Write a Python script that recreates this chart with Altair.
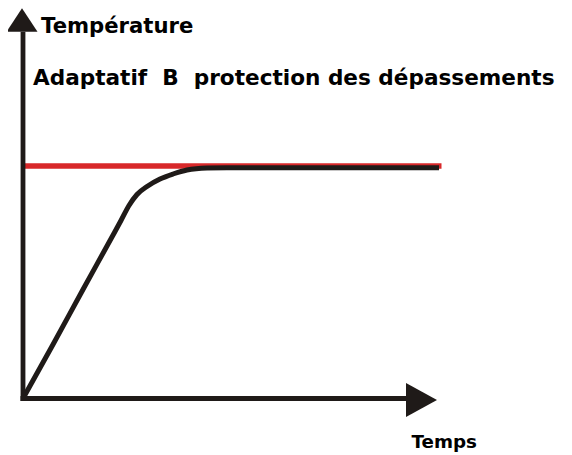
import altair as alt
import pandas as pd

# Black response curve (time, temperature) in arbitrary units
curve_t = [0, 30, 60, 88.7, 98, 106, 114, 124, 137, 150, 164, 184, 204, 416]
curve_T = [0, 54, 109, 161, 178, 193, 204, 212, 219.5, 224.5, 228.5, 230.5, 230.8, 230.8]

# Red set-point line
setpoint_T = 232.5
setpoint_t = [0, 418.5]

# Axis extents (arrow bases) and arrow-head centres
x_axis_end = 383
y_axis_end = 366.8
up_arrow = (-1, 378.5)
right_arrow = (398.5, -1.5)

title_text = "Adaptatif \u00a0B \u00a0protection des dépassements"
ylabel_text = "Température"
xlabel_text = "Temps"

H = 447
X_DOMAIN = [-15, 541]
Y_DOMAIN = [390.5 - H, 390.5]

xs = alt.Scale(domain=X_DOMAIN, nice=False, zero=False)
ys = alt.Scale(domain=Y_DOMAIN, nice=False, zero=False)

dark = "#1f1a18"
red = "#d8282a"

curve_df = pd.DataFrame({"t": curve_t, "T": curve_T, "o": list(range(len(curve_t)))})
red_df = pd.DataFrame({"t": [setpoint_t[0]], "t2": [setpoint_t[1]], "T": [setpoint_T]})
yaxis_df = pd.DataFrame({"t": [0], "T": [-2.5], "T2": [y_axis_end]})
xaxis_df = pd.DataFrame({"t": [-2.5], "t2": [x_axis_end], "T": [0]})
up_df = pd.DataFrame({"t": [up_arrow[0]], "T": [up_arrow[1]]})
right_df = pd.DataFrame({"t": [right_arrow[0]], "T": [right_arrow[1]]})


def bx(f):
    return alt.X(f, type="quantitative", scale=xs, axis=None)


def by(f):
    return alt.Y(f, type="quantitative", scale=ys, axis=None)


redline = alt.Chart(red_df).mark_rule(color=red, strokeWidth=5.5).encode(
    x=bx("t"), x2="t2", y=by("T"))
curve = alt.Chart(curve_df).mark_line(
    color=dark, strokeWidth=5, interpolate="monotone", strokeJoin="round"
).encode(x=bx("t"), y=by("T"), order="o:Q")
yaxis = alt.Chart(yaxis_df).mark_rule(color=dark, strokeWidth=4.8).encode(
    x=bx("t"), y=by("T"), y2="T2")
xaxis = alt.Chart(xaxis_df).mark_rule(color=dark, strokeWidth=4.8).encode(
    x=bx("t"), x2="t2", y=by("T"))
up = alt.Chart(up_df).mark_point(
    shape="M0,-0.755L1,0.755L-1,0.755Z", size=961, filled=True, color=dark, opacity=1
).encode(x=bx("t"), y=by("T"))
right = alt.Chart(right_df).mark_point(
    shape="M1,0L-1,-1.097L-1,1.097Z", size=961, filled=True, color=dark, opacity=1
).encode(x=bx("t"), y=by("T"))

font = "DejaVu Sans"
t1 = alt.Chart(pd.DataFrame({"s": [ylabel_text]})).mark_text(
    font=font, fontWeight="bold", fontSize=21.2, align="left", baseline="alphabetic", color="black"
).encode(x=alt.value(33), y=alt.value(25.3), text="s:N")
t2 = alt.Chart(pd.DataFrame({"s": [title_text]})).mark_text(
    font=font, fontWeight="bold", fontSize=21.6, align="left", baseline="alphabetic", color="black"
).encode(x=alt.value(25), y=alt.value(77), text="s:N")
t3 = alt.Chart(pd.DataFrame({"s": [xlabel_text]})).mark_text(
    font=font, fontWeight="bold", fontSize=18.3, align="left", baseline="alphabetic", color="black"
).encode(x=alt.value(403.5), y=alt.value(440.3), text="s:N")

chart = alt.layer(redline, curve, yaxis, xaxis, up, right, t1, t2, t3).properties(
    width=556, height=H, padding=0, autosize=alt.AutoSizeParams(type="none"),
    background="white"
).configure_view(stroke=None)

chart.save("out.html", embed_options={"renderer": "svg", "actions": False})
